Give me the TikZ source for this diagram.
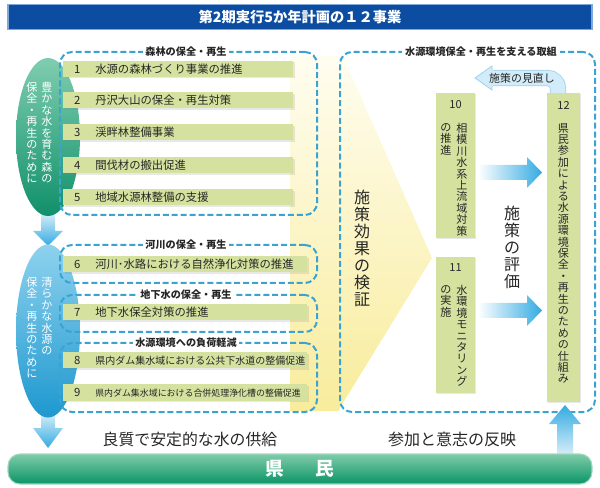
\documentclass[tikz,border=0pt]{standalone}
\usepackage{fontspec}
\setmainfont{Noto Sans CJK JP}
\usepackage{tikz}
\usetikzlibrary{shapes.geometric, positioning, shadows, calc}
\usepackage{xcolor}
\definecolor{title-blue}{HTML}{0C4DA2}
\definecolor{title-edge}{HTML}{7FA7DA}
\definecolor{frame-blue}{HTML}{3AA3D2}
\definecolor{item-green}{HTML}{D5E29F}
\definecolor{ov-green-top}{HTML}{7FCDB0}
\definecolor{ov-green-mid}{HTML}{2DA883}
\definecolor{ov-green-bot}{HTML}{10906A}
\definecolor{ov-blue-top}{HTML}{8ED2EE}
\definecolor{ov-blue-mid}{HTML}{34ADDF}
\definecolor{ov-blue-bot}{HTML}{1E98CF}
\definecolor{arr-blue}{HTML}{33ABE2}
\definecolor{arr-pale}{HTML}{DDF0FA}
\definecolor{band-fill}{HTML}{D3ECF9}
\definecolor{band-edge}{HTML}{9FD1EC}
\definecolor{wedge-top}{HTML}{FFFDF0}
\definecolor{wedge-mid}{HTML}{FAF1B0}
\definecolor{wedge-bot}{HTML}{F8EC9C}
\definecolor{kenmin-top}{HTML}{7FCCA8}
\definecolor{kenmin-bot}{HTML}{0A9467}
\definecolor{kenmin-edge}{HTML}{9ED9BE}
% vertical (tategaki) column, one glyph per line
\makeatletter
\newcommand\tate[2][8.55pt]{\vbox{\baselineskip=#1\lineskiplimit=-\maxdimen
  \@tfor\tch:=#2\do{\hbox to 1em{\hss\tch\hss}}}}
\makeatother
\newcommand\inum[1]{\makebox[21pt]{#1}\hspace{3pt}}

\begin{document}
\begin{tikzpicture}[x=0.75pt, y=-0.75pt,
        grp/.style={draw=frame-blue, line width=1.5pt, dash pattern=on 4.5pt off 2.2pt,
                    rounded corners=9pt, inner sep=0pt},
        grplbl/.style={fill=white, inner xsep=2pt, inner ysep=1pt, text=black!85,
                       font=\bfseries\fontsize{7.6}{9}\selectfont},
        item/.style={rectangle, fill=item-green, anchor=west, inner sep=0pt,
                     minimum height=12pt, text width=172.5pt, align=left, text=black!85,
                     drop shadow={shadow xshift=1pt, shadow yshift=-1pt, opacity=.18},
                     font=\fontsize{8.5}{10}\selectfont},
        stage/.style={rectangle, fill=item-green, inner sep=0pt, minimum width=29.25pt,
                      drop shadow={shadow xshift=1pt, shadow yshift=-1pt, opacity=.18}},
        oval/.style={ellipse, minimum width=48pt, inner sep=0pt},
        vtxt/.style={anchor=north, inner sep=0pt, text=black!85,
                     font=\fontsize{8.3}{10}\selectfont},
        big/.style={inner sep=0pt, text=black!85, font=\fontsize{12}{14}\selectfont}]
\useasboundingbox (0,0) rectangle (600,488);

% title
\node[draw=title-edge, line width=0.8pt, fill=title-blue, minimum width=438pt,
      minimum height=18.5pt, text=white, font=\bfseries\fontsize{10.7}{12}\selectfont]
      (title) at (300,17) {第2期実行5か年計画の１２事業};

% yellow wedge behind the checking text
\shade[top color=wedge-top, middle color=wedge-mid, bottom color=wedge-bot]
      (290,56) -- (343,56) -- (432,258) -- (338,411) -- (290,411) -- cycle;

% block arrows on the left
\shade[top color=arr-pale, bottom color=arr-blue]
      (41,212) -- (55,212) -- (55,231) -- (63,231) -- (48,246) -- (33,231) -- (41,231) -- cycle;
\shade[top color=arr-pale, bottom color=arr-blue]
      (41,412) -- (55,412) -- (55,428) -- (63,428) -- (48,448) -- (33,428) -- (41,428) -- cycle;

% the two ovals
\node[oval, minimum height=118.5pt, top color=ov-green-top, middle color=ov-green-mid,
      bottom color=ov-green-bot] (forest) at (48,137) {};
\node[oval, minimum height=129.75pt, top color=ov-blue-top, middle color=ov-blue-mid,
      bottom color=ov-blue-bot] (source) at (48,331) {};
\node[vtxt, text=white] (forest-r) at (47,82) {\tate{豊かな水を育む森の}};
\node[vtxt, text=white] (forest-l) at (32,82) {\tate{保全・再生のために}};
\node[vtxt, text=white] (source-r) at (47,277) {\tate{清らかな水源の}};
\node[vtxt, text=white] (source-l) at (32,277) {\tate{保全・再生のために}};

% dashed groups
\node[grp, minimum width=192.75pt, minimum height=122.25pt] (g1) at (188.5,133.5) {};
\node[grp, minimum width=192.75pt, minimum height=28.5pt] (g2) at (188.5,264) {};
\node[grp, minimum width=192.75pt, minimum height=27.75pt] (g3) at (188.5,313.5) {};
\node[grp, minimum width=192.75pt, minimum height=51.75pt] (g4) at (188.5,377.5) {};
\node[grp, minimum width=191.25pt, minimum height=270pt] (g5) at (467.5,232) {};
\node[grplbl] (g1lbl) at (186,52) {森林の保全・再生};
\node[grplbl] (g2lbl) at (186,245) {河川の保全・再生};
\node[grplbl] (g3lbl) at (186,295) {地下水の保全・再生};
\node[grplbl] (g4lbl) at (186,343) {水源環境への負荷軽減};
\node[grplbl] (g5lbl) at (481,52) {水源環境保全・再生を支える取組};

% items 1-9
\node[item] (i1) at (63,69) {\inum{1}水源の森林づくり事業の推進};
\node[item] (i2) at (63,100.5) {\inum{2}丹沢大山の保全・再生対策};
\node[item] (i3) at (63,132.5) {\inum{3}渓畔林整備事業};
\node[item] (i4) at (63,165.5) {\inum{4}間伐材の搬出促進};
\node[item] (i5) at (63,197.5) {\inum{5}地域水源林整備の支援};
\node[item, text width=183pt] (i6) at (63,264.5) {\inum{6}河川･水路における自然浄化対策の推進};
\node[item, text width=183pt] (i7) at (63,312.5) {\inum{7}地下水保全対策の推進};
\node[item, text width=183pt] (i8) at (63,360.5)
      {\inum{8}\fontsize{7.5}{9}\selectfont 県内ダム集水域における公共下水道の整備促進};
\node[item, text width=183pt] (i9) at (63,392.5)
      {\inum{9}\fontsize{6.7}{8}\selectfont 県内ダム集水域における合併処理浄化槽の整備促進};

% checking / evaluation texts
\node[big, anchor=north] (verify) at (362,190) {\tate[12.7pt]{施策効果の検証}};
\node[big, anchor=north] (assess) at (512,206) {\tate[12.7pt]{施策の評価}};

% review band from 12 back to the left
\coordinate (rev) at (492.5,78);
\draw[draw=band-edge, line width=0.6pt, double=band-fill, double distance=11pt,
      rounded corners=8pt] (558,96) |- (rev);
\fill[band-fill] (492,66) -- (475,78) -- (492,90) -- cycle;
\draw[band-edge, line width=0.6pt] (492,70.7) -- (492,66) -- (475,78) -- (492,90) -- (492,85.3);
\node[inner sep=0pt, text=black!85, font=\fontsize{8.2}{10}\selectfont] (revlbl) at (522,78) {施策の見直し};

% stages 10, 11, 12
\node[stage, minimum height=108.75pt] (box10) at (455.5,165.5) {};
\node[stage, minimum height=102pt] (box11) at (455.5,325) {};
\node[stage, minimum width=24.75pt, minimum height=231.75pt] (box12) at (563.5,247.5) {};
\node[vtxt, anchor=center] (n10) at (455.5,105) {10};
\node[vtxt] (box10-r) at (462,123) {\tate{相模川水系上流域対策}};
\node[vtxt] (box10-l) at (446,123) {\tate{の推進}};
\node[vtxt, anchor=center] (n11) at (455.5,268) {11};
\node[vtxt] (box11-r) at (462,285) {\tate{水環境モニタリング}};
\node[vtxt] (box11-l) at (446,285) {\tate{の実施}};
\node[vtxt, anchor=center] (n12) at (563.5,105) {12};
\node[vtxt] (box12-t) at (563.5,123) {\tate{県民参加による水源環境保全・再生のための仕組み}};

% arrows 10 -> 12 and 11 -> 12
\shade[left color=white, right color=arr-blue]
      (478,165) -- (527,165) -- (527,157) -- (542,172.5) -- (527,188) -- (527,180) -- (478,180) -- cycle;
\shade[left color=white, right color=arr-blue]
      (478,303) -- (527,303) -- (527,295) -- (542,310.5) -- (527,326) -- (527,318) -- (478,318) -- cycle;

% up arrow from the citizens
\shade[top color=arr-blue, bottom color=arr-pale]
      (565,405) -- (581,424) -- (573,424) -- (573,456) -- (557,456) -- (557,424) -- (549,424) -- cycle;

% bottom texts and bar
\node[big, font=\fontsize{11.9}{14}\selectfont] (supply) at (190,439) {良質で安定的な水の供給};
\node[big] (reflect) at (452,439) {参加と意志の反映};
\node[rounded corners=9pt, minimum width=438pt, minimum height=22.5pt, draw=kenmin-edge,
      line width=0.8pt, top color=kenmin-top, bottom color=kenmin-bot, text=white,
      font=\bfseries\fontsize{14}{16}\selectfont] (kenmin) at (300,469) {県\hspace{23.5pt}民};
\end{tikzpicture}
\end{document}
